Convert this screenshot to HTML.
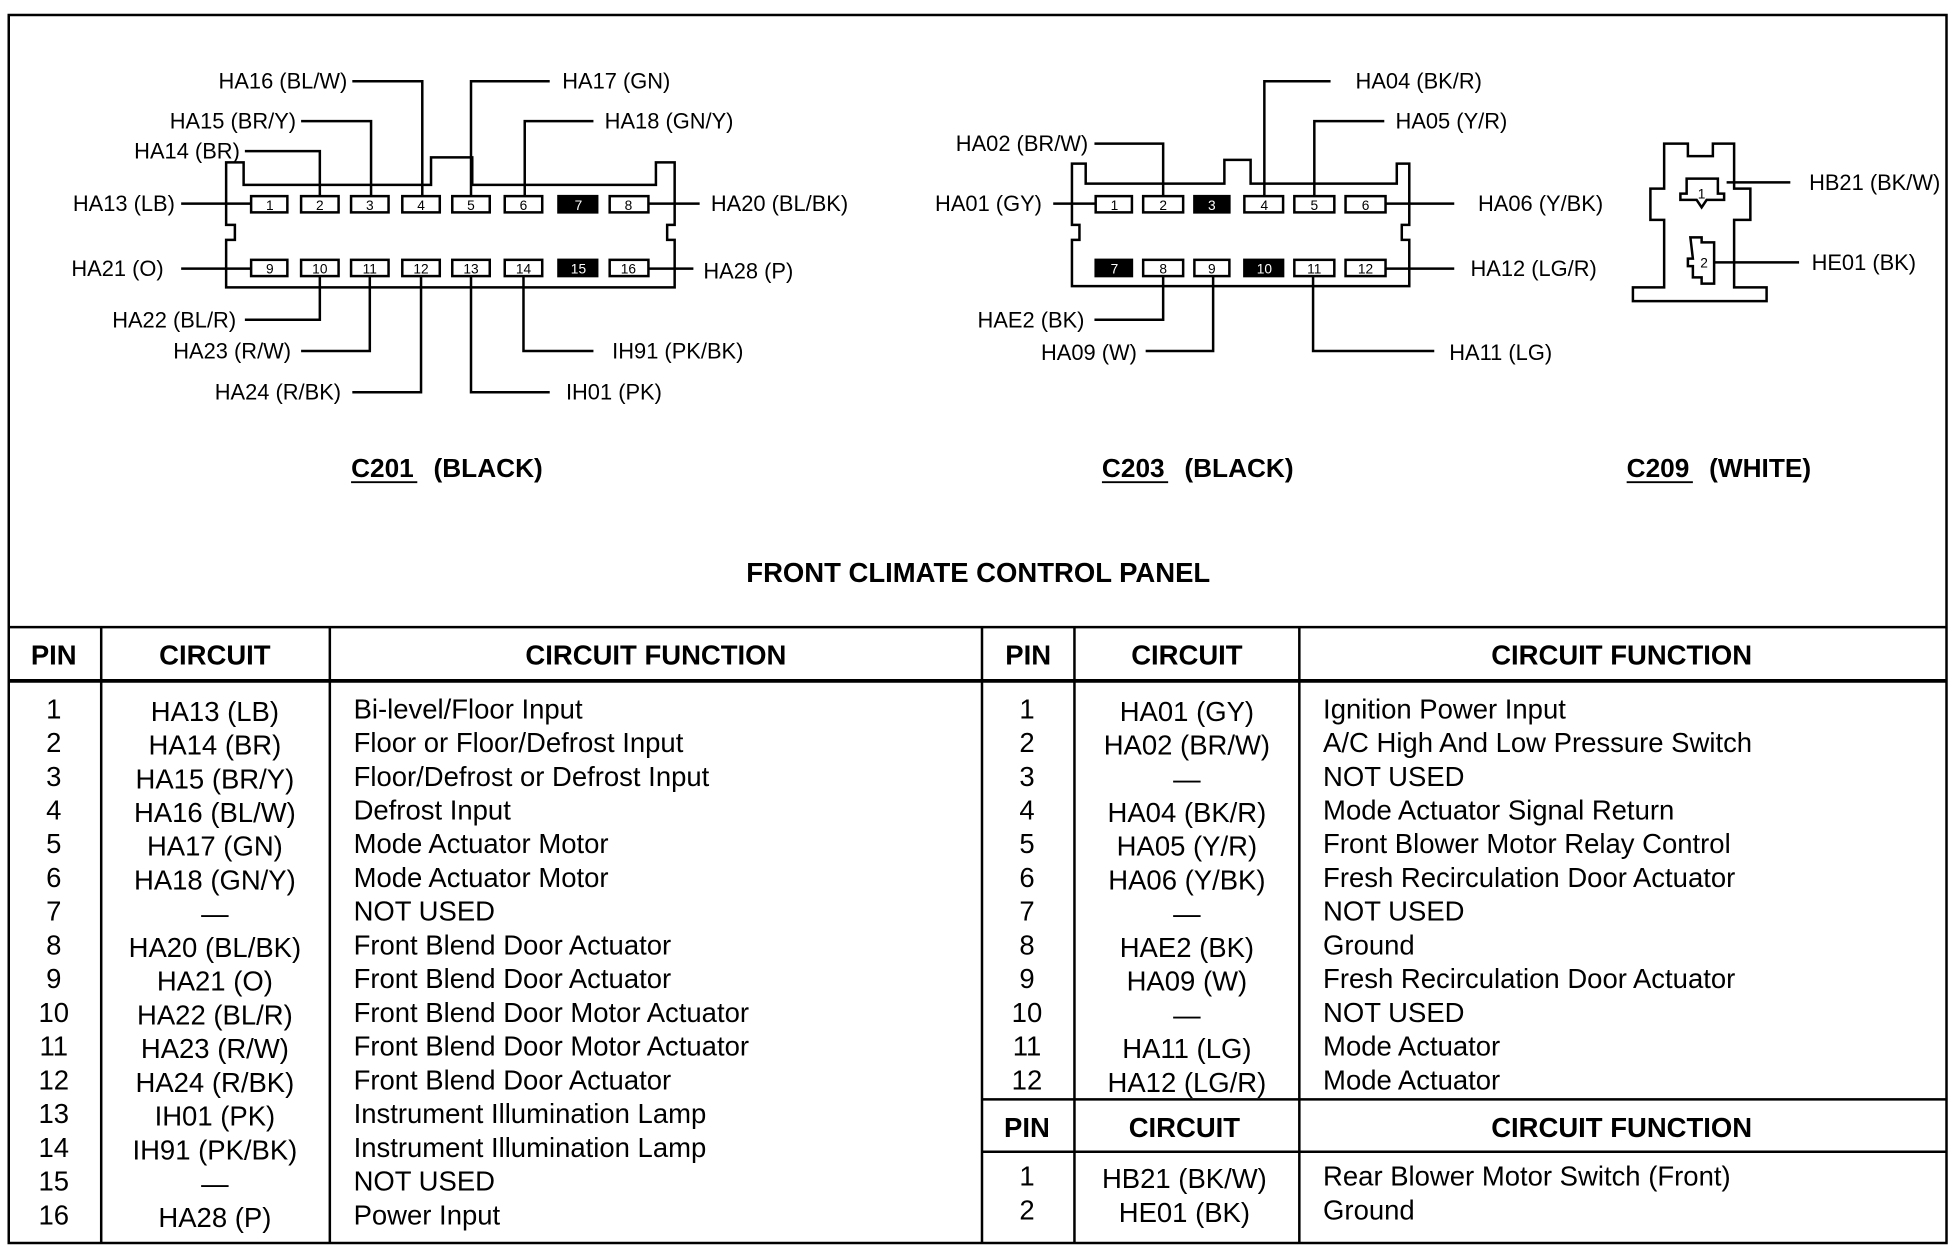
<!DOCTYPE html>
<html><head><meta charset="utf-8"><style>
html,body{margin:0;padding:0;background:#fff}
svg{display:block}
text{font-family:"Liberation Sans",sans-serif;fill:#000}
.l{font-size:17.5px}
.n{font-size:11px;text-anchor:middle}
.t{font-size:22px}
.h{font-size:22px;font-weight:bold;text-anchor:middle}
.c{text-anchor:middle}
</style></head><body>
<svg width="1954" height="1248" viewBox="0 0 1564 999" preserveAspectRatio="none" xmlns="http://www.w3.org/2000/svg">
<rect width="1564" height="999" fill="#fff"/>
<g fill="none" stroke="#000" stroke-width="2">
<rect x="7" y="12" width="1551" height="983"/>
<path d="M181,130 H195 V148 H345 V126 H378 V148 H525 V130 H540 V180 H534 V192 H540 V230 H181 V192 H188 V180 H181 Z"/>
<path d="M858,131 H869 V147 H980 V128 H1001 V147 H1118 V131 H1128 V180 H1122 V192 H1128 V229 H858 V192 H864 V180 H858 Z"/>
<path d="M1332,115 H1351 V125 H1371 V115 H1388 V151 H1401 V176 H1388 V230 H1414 V241 H1307 V230 H1332 V176 H1321 V151 H1332 Z"/>
<path d="M1350,143 H1375 V155 H1380 V160 H1366 L1362,166 L1358,160 H1345 V155 H1350 Z"/>
<path d="M1353,190 H1362 V194 H1372 V227 H1362 V222 H1355 V213 H1351 V207 H1355 Z"/>
<path d="M282,65 H338 V157 M377,157 V65 H440 M241,97 H297 V157 M420,157 V97 H475 M196,121 H256 V157 M145,163 H201 M519,163 H560 M145,215 H201 M519,215 H555 M256,221 V256 H196 M296,221 V281 H241 M337,221 V314 H282 M419,221 V281 H475 M377,221 V314 H440"/>
<path d="M876,115 H931 V157 M1012,157 V65 H1065 M1052,157 V97 H1108 M843,163 H877 M1109,163 H1164 M1109,215 H1164 M931,221 V256 H876 M971,221 V281 H917 M1051,221 V281 H1148"/>
<path d="M1382,146 H1433 M1372,210 H1440"/>
</g>
<g stroke="#000" stroke-width="2" fill="#fff">
<rect x="201" y="157" width="29" height="13"/><rect x="241" y="157" width="30" height="13"/><rect x="281" y="157" width="30" height="13"/><rect x="322" y="157" width="30" height="13"/><rect x="362" y="157" width="30" height="13"/><rect x="404" y="157" width="30" height="13"/><rect x="447" y="157" width="31" height="13" fill="#000"/><rect x="488" y="157" width="31" height="13"/>
<rect x="201" y="208" width="29" height="13"/><rect x="241" y="208" width="30" height="13"/><rect x="281" y="208" width="30" height="13"/><rect x="322" y="208" width="30" height="13"/><rect x="362" y="208" width="30" height="13"/><rect x="404" y="208" width="30" height="13"/><rect x="447" y="208" width="31" height="13" fill="#000"/><rect x="488" y="208" width="31" height="13"/>
<rect x="877" y="157" width="29" height="13"/><rect x="915" y="157" width="32" height="13"/><rect x="956" y="157" width="28" height="13" fill="#000"/><rect x="996" y="157" width="31" height="13"/><rect x="1036" y="157" width="32" height="13"/><rect x="1077" y="157" width="32" height="13"/>
<rect x="877" y="208" width="29" height="13" fill="#000"/><rect x="915" y="208" width="32" height="13"/><rect x="956" y="208" width="28" height="13"/><rect x="996" y="208" width="31" height="13" fill="#000"/><rect x="1036" y="208" width="32" height="13"/><rect x="1077" y="208" width="32" height="13"/>
</g>
<g class="n">
<text x="216" y="168" class="n">1</text><text x="256" y="168" class="n">2</text><text x="296" y="168" class="n">3</text><text x="337" y="168" class="n">4</text><text x="377" y="168" class="n">5</text><text x="419" y="168" class="n">6</text><text x="463" y="168" class="n" style="fill:#fff">7</text><text x="503" y="168" class="n">8</text>
<text x="216" y="219" class="n">9</text><text x="256" y="219" class="n">10</text><text x="296" y="219" class="n">11</text><text x="337" y="219" class="n">12</text><text x="377" y="219" class="n">13</text><text x="419" y="219" class="n">14</text><text x="463" y="219" class="n" style="fill:#fff">15</text><text x="503" y="219" class="n">16</text>
<text x="892" y="168" class="n">1</text><text x="931" y="168" class="n">2</text><text x="970" y="168" class="n" style="fill:#fff">3</text><text x="1012" y="168" class="n">4</text><text x="1052" y="168" class="n">5</text><text x="1093" y="168" class="n">6</text>
<text x="892" y="219" class="n" style="fill:#fff">7</text><text x="931" y="219" class="n">8</text><text x="970" y="219" class="n">9</text><text x="1012" y="219" class="n" style="fill:#fff">10</text><text x="1052" y="219" class="n">11</text><text x="1093" y="219" class="n">12</text>
<text x="1362" y="159" class="n">1</text><text x="1364" y="214" class="n">2</text>
</g>
<g class="l">
<text x="278" y="71" text-anchor="end">HA16 (BL/W)</text>
<text x="450" y="71">HA17 (GN)</text>
<text x="237" y="103" text-anchor="end">HA15 (BR/Y)</text>
<text x="484" y="103">HA18 (GN/Y)</text>
<text x="192" y="127" text-anchor="end">HA14 (BR)</text>
<text x="140" y="169" text-anchor="end">HA13 (LB)</text>
<text x="569" y="169">HA20 (BL/BK)</text>
<text x="131" y="221" text-anchor="end">HA21 (O)</text>
<text x="563" y="223">HA28 (P)</text>
<text x="189" y="262" text-anchor="end">HA22 (BL/R)</text>
<text x="233" y="287" text-anchor="end">HA23 (R/W)</text>
<text x="273" y="320" text-anchor="end">HA24 (R/BK)</text>
<text x="490" y="287">IH91 (PK/BK)</text>
<text x="453" y="320">IH01 (PK)</text>
<text x="871" y="121" text-anchor="end">HA02 (BR/W)</text>
<text x="1085" y="71">HA04 (BK/R)</text>
<text x="1117" y="103">HA05 (Y/R)</text>
<text x="834" y="169" text-anchor="end">HA01 (GY)</text>
<text x="1183" y="169">HA06 (Y/BK)</text>
<text x="1177" y="221">HA12 (LG/R)</text>
<text x="868" y="262" text-anchor="end">HAE2 (BK)</text>
<text x="910" y="288" text-anchor="end">HA09 (W)</text>
<text x="1160" y="288">HA11 (LG)</text>
<text x="1448" y="152">HB21 (BK/W)</text>
<text x="1450" y="216">HE01 (BK)</text>
</g>
<g style="font-size:21px;font-weight:bold">
<text x="281" y="382">C201</text><text x="347" y="382">(BLACK)</text>
<text x="882" y="382">C203</text><text x="948" y="382">(BLACK)</text>
<text x="1302" y="382">C209</text><text x="1368" y="382">(WHITE)</text>
<text x="783" y="466" text-anchor="middle" style="font-size:22px">FRONT CLIMATE CONTROL PANEL</text>
</g>
<g stroke="#000" stroke-width="1.5"><path d="M281,386 H334 M882,386 H935 M1302,386 H1355"/></g>
<g fill="none" stroke="#000" stroke-width="2">
<path d="M7,502 H1558"/>
<path d="M7,545 H1558" stroke-width="3"/>
<path d="M81,502 V995 M264,502 V995 M786,502 V995 M860,502 V995 M1040,502 V995"/>
<path d="M786,880 H1558 M786,922 H1558" />
</g>
<g class="h">
<text x="43" y="532">PIN</text><text x="172" y="532">CIRCUIT</text><text x="525" y="532">CIRCUIT FUNCTION</text>
<text x="823" y="532">PIN</text><text x="950" y="532">CIRCUIT</text><text x="1298" y="532">CIRCUIT FUNCTION</text>
<text x="822" y="910">PIN</text><text x="948" y="910">CIRCUIT</text><text x="1298" y="910">CIRCUIT FUNCTION</text>
</g>
<g class="t">
<g text-anchor="middle">
<text x="43" y="575">1</text><text x="43" y="602">2</text><text x="43" y="629">3</text><text x="43" y="656">4</text><text x="43" y="683">5</text><text x="43" y="710">6</text><text x="43" y="737">7</text><text x="43" y="764">8</text><text x="43" y="791">9</text><text x="43" y="818">10</text><text x="43" y="845">11</text><text x="43" y="872">12</text><text x="43" y="899">13</text><text x="43" y="926">14</text><text x="43" y="953">15</text><text x="43" y="980">16</text>
<text x="172" y="577">HA13 (LB)</text><text x="172" y="604">HA14 (BR)</text><text x="172" y="631">HA15 (BR/Y)</text><text x="172" y="658">HA16 (BL/W)</text><text x="172" y="685">HA17 (GN)</text><text x="172" y="712">HA18 (GN/Y)</text><text x="172" y="739">—</text><text x="172" y="766">HA20 (BL/BK)</text><text x="172" y="793">HA21 (O)</text><text x="172" y="820">HA22 (BL/R)</text><text x="172" y="847">HA23 (R/W)</text><text x="172" y="874">HA24 (R/BK)</text><text x="172" y="901">IH01 (PK)</text><text x="172" y="928">IH91 (PK/BK)</text><text x="172" y="955">—</text><text x="172" y="982">HA28 (P)</text>
<text x="822" y="575">1</text><text x="822" y="602">2</text><text x="822" y="629">3</text><text x="822" y="656">4</text><text x="822" y="683">5</text><text x="822" y="710">6</text><text x="822" y="737">7</text><text x="822" y="764">8</text><text x="822" y="791">9</text><text x="822" y="818">10</text><text x="822" y="845">11</text><text x="822" y="872">12</text>
<text x="950" y="577">HA01 (GY)</text><text x="950" y="604">HA02 (BR/W)</text><text x="950" y="631">—</text><text x="950" y="658">HA04 (BK/R)</text><text x="950" y="685">HA05 (Y/R)</text><text x="950" y="712">HA06 (Y/BK)</text><text x="950" y="739">—</text><text x="950" y="766">HAE2 (BK)</text><text x="950" y="793">HA09 (W)</text><text x="950" y="820">—</text><text x="950" y="847">HA11 (LG)</text><text x="950" y="874">HA12 (LG/R)</text>
<text x="822" y="949">1</text><text x="822" y="976">2</text>
<text x="948" y="951">HB21 (BK/W)</text><text x="948" y="978">HE01 (BK)</text>
</g>
<text x="283" y="575">Bi-level/Floor Input</text><text x="283" y="602">Floor or Floor/Defrost Input</text><text x="283" y="629">Floor/Defrost or Defrost Input</text><text x="283" y="656">Defrost Input</text><text x="283" y="683">Mode Actuator Motor</text><text x="283" y="710">Mode Actuator Motor</text><text x="283" y="737">NOT USED</text><text x="283" y="764">Front Blend Door Actuator</text><text x="283" y="791">Front Blend Door Actuator</text><text x="283" y="818">Front Blend Door Motor Actuator</text><text x="283" y="845">Front Blend Door Motor Actuator</text><text x="283" y="872">Front Blend Door Actuator</text><text x="283" y="899">Instrument Illumination Lamp</text><text x="283" y="926">Instrument Illumination Lamp</text><text x="283" y="953">NOT USED</text><text x="283" y="980">Power Input</text>
<text x="1059" y="575">Ignition Power Input</text><text x="1059" y="602">A/C High And Low Pressure Switch</text><text x="1059" y="629">NOT USED</text><text x="1059" y="656">Mode Actuator Signal Return</text><text x="1059" y="683">Front Blower Motor Relay Control</text><text x="1059" y="710">Fresh Recirculation Door Actuator</text><text x="1059" y="737">NOT USED</text><text x="1059" y="764">Ground</text><text x="1059" y="791">Fresh Recirculation Door Actuator</text><text x="1059" y="818">NOT USED</text><text x="1059" y="845">Mode Actuator</text><text x="1059" y="872">Mode Actuator</text>
<text x="1059" y="949">Rear Blower Motor Switch (Front)</text><text x="1059" y="976">Ground</text>
</g>
</svg>
</body></html>
